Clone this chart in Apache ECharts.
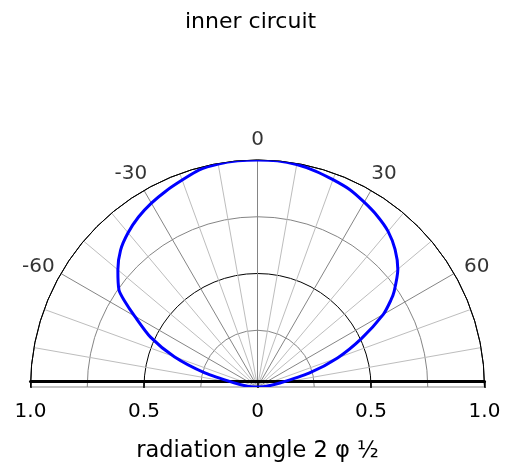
<!DOCTYPE html>
<html>
<head>
<meta charset="utf-8">
<script src="https://cdn.jsdelivr.net/npm/echarts@6/dist/echarts.min.js"></script>
<style>html,body{margin:0;padding:0;background:#fff}#c{width:512px;height:468px}</style>
</head>
<body>
<div id="c"></div>
<script>
// Radiation pattern (angle in degrees, relative radius)
const curveAngles = [-90,-85,-80,-75,-70,-65,-60,-57,-55,-50,-45,-40,-35,-30,-25,-20,-15,-10,-5,0,5,10,15,20,25,30,35,40,45,50,55,57,60,65,70,75,80,85,90];
const curveRadii  = [0,0.045,0.105,0.24,0.39,0.52,0.625,0.70,0.745,0.803,0.853,0.887,0.914,0.935,0.953,0.97,0.99,0.997,1.0,1.0,1.0,0.995,0.985,0.972,0.96,0.94,0.92,0.895,0.857,0.807,0.735,0.70,0.64,0.505,0.375,0.235,0.1,0.04,0];
// angle tick labels
const angleTicks = [-60,-30,0,30,60];
// bottom axis tick labels
const xTickLabels = {'-1':'1.0','-0.5':'0.5','0':'0','0.5':'0.5','1':'1.0'};

const FONT = 'DejaVu Sans';
const CX = 257.5, CY = 387, R = 227;

const chart = echarts.init(document.getElementById('c'), null, {renderer:'canvas'});
chart.setOption({
  animation: false,
  backgroundColor: '#fff',
  title: {
    text: 'inner circuit',
    left: 180, top: 6,
    textStyle: {fontFamily: FONT, fontSize: 22, fontWeight: 'normal', color: '#000'}
  },
  polar: {center: [CX, CY], radius: R},
  angleAxis: {
    type: 'value', min: -90, max: 90, interval: 10,
    startAngle: 180, endAngle: 0, clockwise: true,
    axisLine: {show: true, lineStyle: {color: '#000', width: 1}},
    axisTick: {show: false},
    axisLabel: {show: false},
    splitLine: {show: true, lineStyle: {color: ['#858585','#bdbdbd','#bdbdbd'], width: 1}}
  },
  radiusAxis: {
    type: 'value', min: 0, max: 1, interval: 0.25,
    axisLine: {show: false}, axisTick: {show: false}, axisLabel: {show: false},
    splitLine: {show: true, lineStyle: {color: ['#000','#858585'], width: 1}}
  },
  grid: {left: CX - R, width: 2 * R, top: 100, height: CY - 100},
  xAxis: {
    type: 'value', min: -1, max: 1, interval: 0.5,
    axisLine: {show: true, onZero: false, lineStyle: {color: '#000', width: 3}},
    axisTick: {show: true, length: 7, lineStyle: {color: '#000', width: 1.5}},
    axisLabel: {margin: 21, fontFamily: FONT, fontSize: 20, color: '#000',
      formatter: v => xTickLabels[String(v)] ?? ''},
    splitLine: {show: false},
    name: 'radiation angle 2 φ ½', nameLocation: 'middle', nameGap: 59,
    nameTextStyle: {fontFamily: FONT, fontSize: 22.5, color: '#000'}
  },
  yAxis: {type: 'value', min: 0, max: 1, show: false},
  series: [
    {
      type: 'line', coordinateSystem: 'polar',
      data: curveAngles.map((a, i) => [curveRadii[i], a]),
      smooth: 0.25, showSymbol: false, symbol: 'none',
      lineStyle: {color: '#0000ff', width: 3},
      z: 5
    },
    {
      type: 'scatter', coordinateSystem: 'polar', clip: false,
      data: angleTicks.map(a => [1.115, a]),
      symbolSize: 1, itemStyle: {color: 'rgba(0,0,0,0)'},
      label: {show: true, position: 'inside', offset: [0, 6], fontFamily: FONT, fontSize: 20, color: '#000',
        formatter: p => String(p.value[1])},
      silent: true
    }
  ]
});
</script>
</body>
</html>
